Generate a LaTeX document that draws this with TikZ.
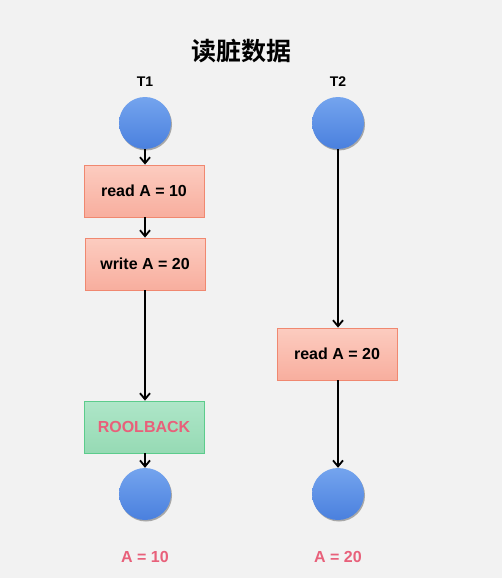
\documentclass[tikz,border=0pt]{standalone}
\usepackage{fontspec}
\setmainfont{Liberation Sans}
\newfontfamily\cjk{Noto Sans CJK SC}[BoldFont={* Bold}]
\usetikzlibrary{arrows.meta,shadows}
\definecolor{bg}{HTML}{F2F2F2}
\definecolor{redtop}{HTML}{FCCCC0}
\definecolor{redbot}{HTML}{F8AE9E}
\definecolor{redline}{HTML}{F08870}
\definecolor{greentop}{HTML}{AEE6C8}
\definecolor{greenbot}{HTML}{96DAB4}
\definecolor{greenline}{HTML}{5CCC8C}
\definecolor{bluetop}{HTML}{74A4EE}
\definecolor{bluebot}{HTML}{4A80DE}
\definecolor{pinktext}{HTML}{E8607A}
\tikzset{
  px/.style={x=1pt,y=-1pt},
  proc/.style={draw=redline, line width=0.8pt, top color=redtop, bottom color=redbot,
    minimum width=120pt, minimum height=52pt, inner sep=0pt,
    font=\fontsize{16}{18}\selectfont\bfseries, text=black},
  rollbox/.style={proc, draw=greenline, top color=greentop, bottom color=greenbot, text=pinktext},
  txn/.style={circle, minimum size=52pt, inner sep=0pt, top color=bluetop, bottom color=bluebot,
    drop shadow={shadow xshift=1pt, shadow yshift=-1.5pt, opacity=0.45, fill=black!70}},
  lab/.style={font=\fontsize{14}{16}\selectfont\bfseries},
  res/.style={font=\fontsize{16}{18}\selectfont\bfseries, text=pinktext},
  flow/.style={draw=black, line width=1.8pt, -{Straight Barb[length=6pt,width=10pt,line width=1.8pt]}}
}
\begin{document}
\begin{tikzpicture}[px]
\fill[bg] (0,0) rectangle (502,578);
\useasboundingbox (0,0) rectangle (502,578);
\node[font=\cjk\fontsize{25}{28}\selectfont\bfseries] (title) at (241,51) {读脏数据};
\node[lab] (t1) at (145,82) {T1};
\node[lab] (t2) at (338,82) {T2};
\node[txn] (c1) at (145,123) {};
\node[txn] (c2) at (338,123) {};
\node[proc] (r1) at (144,191) {read A = 10};
\node[proc] (w1) at (145,264) {write A = 20};
\node[rollbox] (rb) at (144,427) {ROOLBACK};
\node[proc] (r2) at (337,354) {read A = 20};
\node[txn] (c3) at (145,494) {};
\node[txn] (c4) at (338,494) {};
\node[res] (a1) at (145,557) {A = 10};
\node[res] (a2) at (338,557) {A = 20};
\draw[flow] (c1.south) -- (c1.south |- r1.north);
\draw[flow] (r1.south -| w1.north) -- (w1.north);
\draw[flow] (w1.south) -- (w1.south |- rb.north);
\draw[flow] (rb.south -| c3.north) -- (c3.north);
\draw[flow] (c2.south) -- (c2.south |- r2.north);
\draw[flow] (r2.south -| c4.north) -- (c4.north);
\end{tikzpicture}
\end{document}
